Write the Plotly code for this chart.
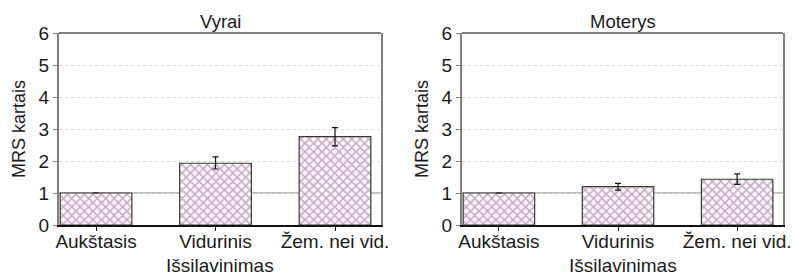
import plotly.graph_objects as go

categories = ["Aukštasis", "Vidurinis", "Žem. nei vid."]
panel_titles = ["Vyrai", "Moterys"]
men_mrs = [1.0, 1.93, 2.76]
men_ci_low = [1.0, 1.75, 2.47]
men_ci_high = [1.0, 2.13, 3.04]
women_mrs = [1.0, 1.20, 1.43]
women_ci_low = [1.0, 1.09, 1.27]
women_ci_high = [1.0, 1.30, 1.60]
y_ticks = [0, 1, 2, 3, 4, 5, 6]
x_title = "Išsilavinimas"
y_title = "MRS kartais"

FONT = "Liberation Sans, Arial, sans-serif"
TXT = "#1a1a1a"
W, H = 795, 275
BAR_FG = "#94598f"
NAN = float("nan")

fig = go.Figure()

panels = [
    (men_mrs, men_ci_low, men_ci_high, "x", "y"),
    (women_mrs, women_ci_low, women_ci_high, "x2", "y2"),
]
for vals, lo, hi, xa, ya in panels:
    has_err = [h > l for l, h in zip(lo, hi)]
    fig.add_trace(go.Bar(
        x=categories, y=vals, xaxis=xa, yaxis=ya, width=0.6,
        marker=dict(color="white", line=dict(color="#3a3a3a", width=1.2),
                    pattern=dict(shape="x", fgcolor=BAR_FG, bgcolor="white",
                                 size=6, solidity=0.5)),
        error_y=dict(type="data", symmetric=False,
                     array=[h - v if e else NAN for h, v, e in zip(hi, vals, has_err)],
                     arrayminus=[v - l if e else NAN for l, v, e in zip(lo, vals, has_err)],
                     color="#111111", thickness=1.2, width=3),
        showlegend=False, hoverinfo="skip",
    ))

x_domains = [(59 / W, 381 / W), (462 / W, 783 / W)]
y_dom = ((H - 225) / H, (H - 33) / H)

axis_common_x = dict(
    type="category", range=[-0.31, 2.385], showgrid=False, zeroline=False,
    showline=True, linecolor="#111111", linewidth=1.5, automargin=False,
    ticks="outside", ticklen=4, tickcolor="#111111", ticklabelstandoff=-6,
    tickfont=dict(family=FONT, size=19, color=TXT),
)
axis_common_y = dict(
    range=[0, 6], tickvals=y_ticks, showgrid=True, gridcolor="#d6d6d6",
    griddash="dot", gridwidth=1, zeroline=False, automargin=False,
    showline=True, linecolor="#808080", linewidth=2, mirror=True,
    ticks="outside", ticklen=4, tickcolor="#808080",
    tickfont=dict(family=FONT, size=19, color=TXT),
    title=dict(text=y_title, font=dict(family=FONT, size=18, color=TXT), standoff=8),
)

fig.update_layout(
    width=W, height=H, margin=dict(l=0, r=0, t=0, b=0, autoexpand=False),
    paper_bgcolor="white", plot_bgcolor="white",
    bargap=0.4,
    xaxis=dict(domain=x_domains[0], anchor="y", **axis_common_x),
    yaxis=dict(domain=y_dom, anchor="x", **axis_common_y),
    xaxis2=dict(domain=x_domains[1], anchor="y2", **axis_common_x),
    yaxis2=dict(domain=y_dom, anchor="x2", **axis_common_y),
)

shapes = []
for i, (xa, ya) in enumerate([("x", "y"), ("x2", "y2")]):
    shapes.append(dict(type="line", xref=f"{xa} domain", yref=ya, x0=0, x1=1, y0=1, y1=1,
                       line=dict(color="#808080", width=1), layer="below"))
    shapes.append(dict(type="line", xref=f"{xa} domain", yref=f"{ya} domain", x0=0, x1=1, y0=1, y1=1,
                       line=dict(color="#808080", width=2)))
fig.update_layout(shapes=shapes)

annotations = []
for i, t in enumerate(panel_titles):
    xc = (x_domains[i][0] + x_domains[i][1]) / 2
    annotations.append(dict(text=t, x=xc, y=y_dom[1], xref="paper", yref="paper",
                            xanchor="center", yanchor="bottom", yshift=-1, showarrow=False,
                            font=dict(family=FONT, size=18.5, color=TXT)))
    annotations.append(dict(text=x_title, x=xc, y=y_dom[0], xref="paper", yref="paper",
                            xanchor="center", yanchor="middle", yshift=-40, showarrow=False,
                            font=dict(family=FONT, size=19, color=TXT)))
fig.update_layout(annotations=annotations)

fig.write_html("out.html", config={"displayModeBar": False},
               post_script="document.body.style.margin='0';document.body.style.overflow='hidden';")
